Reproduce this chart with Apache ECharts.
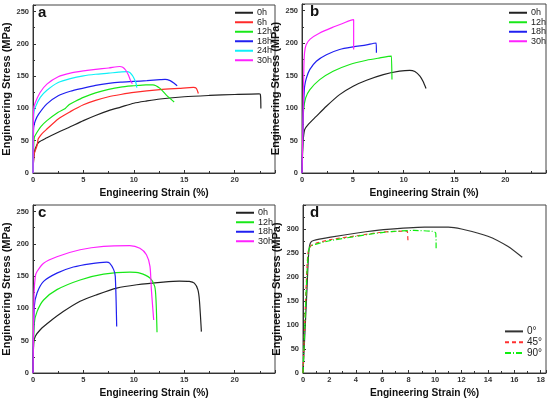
<!DOCTYPE html>
<html>
<head>
<meta charset="utf-8">
<script src="https://cdn.jsdelivr.net/npm/echarts@6/dist/echarts.min.js"></script>
<style>
  html, body { margin: 0; padding: 0; background: #fff; }
  #main { width: 550px; height: 402px; }
</style>
</head>
<body>
<div id="main"></div>
<script>
// strain (%) / stress (MPa) pairs
var a0h = [[0,0],[0.05,18],[0.12,30],[0.23,38],[0.56,47.5],[1.38,54.5],[2.5,63],[3.5,70],[5,81],[6.2,89],[7.5,96.5],[8.7,102],[10,108],[11.3,111.5],[12.6,114.5],[15,118],[17.5,120],[20,121.5],[22.4,122.5],[22.55,121.5],[22.6,100]];
var a6h = [[0,0],[0.06,20],[0.13,30],[0.4,42.6],[0.5,52],[0.56,54],[0.9,61],[1.38,68],[2.5,83.7],[3.7,95],[5,105.7],[6.2,112.5],[7.5,118],[8.7,121.5],[10,124.7],[12.6,129],[14.5,131],[15.9,132.4],[16.2,131],[16.4,123]];
var a12h = [[0,0],[0.05,30],[0.13,55],[0.4,63],[0.8,72],[1.38,81],[2.5,94],[3.2,100],[3.6,106],[4.2,111],[5,117],[6.2,124],[7.5,129.5],[8.7,133],[10,135],[11.2,136.5],[11.9,136.5],[12.6,131],[13.2,121],[13.7,114],[14,110]];
var a18h = [[0,0],[0.03,40],[0.07,71],[0.23,81],[0.56,91],[1.38,107],[2.5,119.6],[3.7,126.5],[5,131.4],[6.2,135.5],[7.5,138.6],[8.7,140.5],[10,141.7],[11.3,143],[12.6,144.5],[13.1,145],[13.6,143],[14,139],[14.3,135]];
var a24h = [[0,0],[0.03,50],[0.07,91],[0.23,101.6],[0.72,117],[1.38,128],[2.5,140],[3.7,146],[5,150.4],[6.2,152.8],[7.5,154.5],[8.5,156],[9.3,156.8],[9.6,155.5],[9.85,151],[10,147],[10.2,140],[10.3,132]];
var a30h = [[0,0],[0.03,55],[0.07,99],[0.23,109],[0.72,125],[1.38,137.6],[2.5,149],[3.7,154.5],[5,158],[6.2,160.5],[7.5,162.5],[8.6,164.8],[8.9,163.5],[9.2,159],[9.45,152],[9.65,144],[9.85,138]];

var b0h = [[0,0],[0.1,46],[0.26,66.7],[0.6,74.4],[1.4,87],[2.4,102.7],[3.7,120.6],[5.03,133.5],[6.35,142.7],[8,151.4],[9.6,156.6],[10.6,158],[11.1,156],[11.6,149],[11.9,141],[12.2,130]];
var b12h = [[0,0],[0.1,70],[0.16,97.5],[0.36,115.5],[0.76,128],[1.74,143.7],[3.06,156.6],[4.7,167],[6.35,173.5],[7.66,177],[8.8,179.7],[8.85,179],[8.85,143.7]];
var b18h = [[0,0],[0.12,90],[0.2,120],[0.26,133.5],[0.43,146],[0.76,159],[1.41,172],[2.4,182],[3.7,190],[5.03,194],[6.35,197],[7.3,200],[7.32,199],[7.32,185]];
var b30h = [[0,0],[0.1,80],[0.18,160],[0.25,185],[0.4,197],[0.8,206],[1.7,215],[3,224],[4,230],[5.05,236],[5.08,235],[5.08,190]];

var c0h = [[0,0],[0.07,46],[0.23,56.7],[0.72,67],[1.7,80],[3.0,95],[4.67,111],[6.3,121],[8.3,131.4],[10.3,136.6],[12.9,140.7],[14.5,142.3],[15.5,141.8],[16.0,139],[16.35,129],[16.5,113],[16.7,64]];
var c12h = [[0,0],[0.13,77],[0.4,95],[1.05,113],[2.37,129],[4.67,144],[7,153],[9.6,156],[10.6,154.6],[11.6,147],[12.07,134],[12.2,113],[12.3,63]];
var c18h = [[0,0],[0.13,103],[0.4,123.7],[1.05,141.7],[2.37,154.6],[4,164],[5.66,169],[7.3,171.6],[7.6,170],[8.0,160],[8.16,149.5],[8.3,72]];
var c30h = [[0,0],[0.1,120],[0.23,149.5],[0.4,157],[1.05,170],[2.37,180],[4.67,190.7],[7,196],[9.6,197],[10.6,193],[11.25,183],[11.6,165],[11.74,129],[11.97,82]];

var d0 = [[0,0],[0.3,173.6],[0.43,250],[0.56,271],[0.8,276],[2.1,283],[4.1,291.7],[6.1,298.6],[9.2,304],[11,304],[12,300],[14,285],[15.5,264],[16.6,241]];
var d45 = [[0,0],[0.25,187.5],[0.38,250],[0.56,264],[1.07,271],[2.1,278],[4.1,286],[6.1,293.7],[7.9,295.5],[7.95,295],[7.95,274]];
var d90 = [[0,0],[0.27,190],[0.4,250],[0.56,264],[1.07,269],[2.1,276],[4.1,285],[6.1,293],[8.4,297],[9.8,295],[10.05,291.7],[10.08,260]];

var namesA = ['0h', '6h', '12h', '18h', '24h', '30h'];
var namesBC = ['0h', '12h', '18h', '30h'];
var namesD = ['0°', '45°', '90°'];

var colors = { '0h': '#222222', '6h': '#ff2a2a', '12h': '#18e818', '18h': '#2020f0', '24h': '#10f0f8', '30h': '#ff22ff' };
var FONT = '"Liberation Sans", Arial, sans-serif';

function xAxis(idx, max, interval) {
  return {
    type: 'value', gridIndex: idx, min: 0, max: max, interval: interval,
    name: 'Engineering Strain (%)', nameLocation: 'middle', nameGap: 15,
    nameTextStyle: { fontFamily: FONT, fontSize: 10.2, fontWeight: 'bold', color: '#111' },
    axisLine: { show: true, onZero: false, lineStyle: { color: '#333', width: 1 } },
    axisTick: { show: true, inside: true, length: 3, lineStyle: { color: '#333' } },
    minorTick: { show: true, splitNumber: 2, length: 2, lineStyle: { color: '#333' } },
    axisLabel: { fontFamily: FONT, fontSize: 7.5, fontWeight: 'bold', color: '#333', margin: 3, showMaxLabel: false },
    splitLine: { show: false }
  };
}
function yAxis(idx, max, gap) {
  return {
    type: 'value', gridIndex: idx, min: 0, max: max, interval: 50,
    name: 'Engineering Stress (MPa)', nameLocation: 'middle', nameGap: gap,
    nameTextStyle: { fontFamily: FONT, fontSize: 11, fontWeight: 'bold', color: '#111' },
    axisLine: { show: true, onZero: false, lineStyle: { color: '#333', width: 1 } },
    axisTick: { show: true, inside: true, length: 3, lineStyle: { color: '#333' } },
    minorTick: { show: true, splitNumber: 2, length: 2, lineStyle: { color: '#333' } },
    axisLabel: { fontFamily: FONT, fontSize: 7.5, fontWeight: 'bold', color: '#333', margin: 4, showMaxLabel: false },
    splitLine: { show: false }
  };
}
function line(name, data, idx, color, type) {
  return {
    type: 'line', name: name, data: data, xAxisIndex: idx, yAxisIndex: idx,
    symbol: 'none', smooth: 0.25, animation: false,
    lineStyle: { color: color, width: 1.2, type: type || 'solid' },
    itemStyle: { color: color }
  };
}
function legend(names, left, top, rowH, fs) {
  return {
    data: names, orient: 'vertical', left: left, top: top,
    itemWidth: 18, itemHeight: 8, itemGap: 0, padding: 0, selectedMode: false,
    itemStyle: { opacity: 0 },
    textStyle: { fontFamily: FONT, fontSize: fs, color: '#222', lineHeight: rowH, padding: [0, 0, 0, -1] }
  };
}

var chart = echarts.init(document.getElementById('main'));
chart.setOption({
  animation: false,
  backgroundColor: '#fff',
  grid: [
    { left: 33, top: 5, width: 242, height: 168, show: true, borderColor: '#444', borderWidth: 1 },
    { left: 302, top: 4, width: 244, height: 169, show: true, borderColor: '#444', borderWidth: 1 },
    { left: 33, top: 205, width: 242, height: 168, show: true, borderColor: '#444', borderWidth: 1 },
    { left: 303, top: 205, width: 243, height: 168, show: true, borderColor: '#444', borderWidth: 1 }
  ],
  xAxis: [xAxis(0, 24, 5), xAxis(1, 24, 5), xAxis(2, 24, 5), xAxis(3, 18.4, 2)],
  yAxis: [yAxis(0, 260, 19), yAxis(1, 260, 17), yAxis(2, 260, 19), yAxis(3, 350, 18)],
  legend: [
    legend(namesA, 234, 8, 9.5, 9),
    legend(namesBC, 508, 8, 9.5, 9),
    legend(namesBC, 235, 208, 9.5, 9),
    legend(namesD, 504, 326, 10.8, 10)
  ],
  graphic: [
    { type: 'text', left: 38, top: 5, style: { text: 'a', font: 'bold 15px ' + FONT, fill: '#111' } },
    { type: 'text', left: 310, top: 4, style: { text: 'b', font: 'bold 15px ' + FONT, fill: '#111' } },
    { type: 'text', left: 38, top: 205, style: { text: 'c', font: 'bold 15px ' + FONT, fill: '#111' } },
    { type: 'text', left: 310, top: 205, style: { text: 'd', font: 'bold 15px ' + FONT, fill: '#111' } }
  ],
  series: [
    line('0h', a0h, 0, colors['0h']),
    line('6h', a6h, 0, colors['6h']),
    line('12h', a12h, 0, colors['12h']),
    line('18h', a18h, 0, colors['18h']),
    line('24h', a24h, 0, colors['24h']),
    line('30h', a30h, 0, colors['30h']),
    line('0h', b0h, 1, colors['0h']),
    line('12h', b12h, 1, colors['12h']),
    line('18h', b18h, 1, colors['18h']),
    line('30h', b30h, 1, colors['30h']),
    line('0h', c0h, 2, colors['0h']),
    line('12h', c12h, 2, colors['12h']),
    line('18h', c18h, 2, colors['18h']),
    line('30h', c30h, 2, colors['30h']),
    line('0°', d0, 3, '#333333'),
    line('45°', d45, 3, '#ff3030', [4, 3]),
    line('90°', d90, 3, '#10ee10', [6, 2, 1, 2])
  ]
});
</script>
</body>
</html>
